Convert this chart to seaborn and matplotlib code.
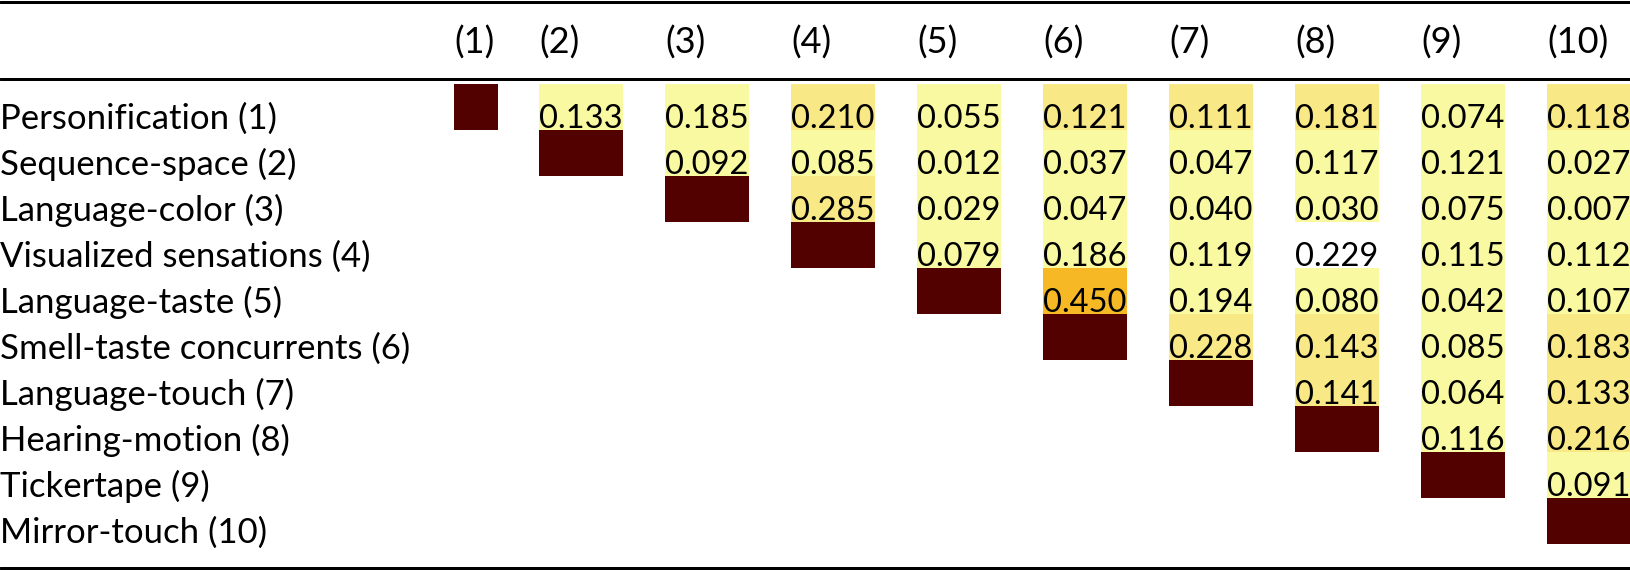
import numpy as np
import pandas as pd
import seaborn as sns
import matplotlib
matplotlib.use("Agg")
import matplotlib.pyplot as plt
from matplotlib.colors import ListedColormap
from matplotlib import transforms
from matplotlib.lines import Line2D

sns.set_theme(style="white")
plt.rcParams["font.family"] = ["Lato", "DejaVu Sans"]

# ---- data ----
row_labels = [
    "Personification (1)", "Sequence-space (2)", "Language-color (3)",
    "Visualized sensations (4)", "Language-taste (5)", "Smell-taste concurrents (6)",
    "Language-touch (7)", "Hearing-motion (8)", "Tickertape (9)", "Mirror-touch (10)",
]
col_labels = ["(1)", "(2)", "(3)", "(4)", "(5)", "(6)", "(7)", "(8)", "(9)", "(10)"]

# upper-triangle values, row i lists columns i+1 .. 10
values_upper = [
    [0.133, 0.185, 0.210, 0.055, 0.121, 0.111, 0.181, 0.074, 0.118],
    [0.092, 0.085, 0.012, 0.037, 0.047, 0.117, 0.121, 0.027],
    [0.285, 0.029, 0.047, 0.040, 0.030, 0.075, 0.007],
    [0.079, 0.186, 0.119, 0.229, 0.115, 0.112],
    [0.450, 0.194, 0.080, 0.042, 0.107],
    [0.228, 0.143, 0.085, 0.183],
    [0.141, 0.064, 0.133],
    [0.116, 0.216],
    [0.091],
]
# shading level of each upper cell: 0 pale, 1 yellow, 2 orange, -1 none
levels_upper = [
    [0, 0, 1, 0, 1, 1, 1, 0, 1],
    [0, 0, 0, 0, 0, 0, 0, 0],
    [1, 0, 0, 0, 0, 0, 0],
    [0, 0, 0, -1, 0, 0],
    [2, 0, 0, 0, 0],
    [1, 1, 0, 1],
    [1, 0, 1],
    [0, 1],
    [0],
]
DIAG_LEVEL = 3
shade_colors = ["#F9F9A1", "#F8E886", "#F6B825", "#520000"]

# ---- build matrices ----
n = len(row_labels)
val = np.full((n, n), np.nan)
lev = np.full((n, n), np.nan)
for i in range(n):
    lev[i, i] = DIAG_LEVEL
    for k, (v, l) in enumerate(zip(values_upper[i] if i < len(values_upper) else [],
                                   levels_upper[i] if i < len(levels_upper) else [])):
        j = i + 1 + k
        val[i, j] = v
        lev[i, j] = l if l >= 0 else np.nan
lev_df = pd.DataFrame(lev, index=row_labels, columns=col_labels)

# ---- layout (pixels) ----
W, H = 1630, 570
fig = plt.figure(figsize=(W / 100, H / 100), dpi=100)
table_top, table_bottom = 84, 544
col_left = [454, 539, 665, 791, 917, 1043, 1169, 1295, 1421, 1547]
col_width = [44] + [84] * 9
label_fs = 25.0
header_fs = 26.0
cell_fs = 23.5

cmap = ListedColormap(shade_colors)
axes = []
for j in range(n):
    ax = fig.add_axes([col_left[j] / W, 1 - table_bottom / H,
                       col_width[j] / W, (table_bottom - table_top) / H])
    sub = lev_df.iloc[:, [j]]
    sns.heatmap(sub, ax=ax, cmap=cmap, vmin=-0.5, vmax=3.5, cbar=False,
                mask=sub.isna(), xticklabels=False, yticklabels=False)
    ax.set_xlabel("")
    ax.set_ylabel("")
    ax.set_axis_off()
    # cell values
    for i in range(n):
        if not np.isnan(val[i, j]):
            ax.text(0.0, i + 1 - 0.04, f"{val[i, j]:.3f}", ha="left", va="baseline",
                    fontsize=cell_fs, color="black", clip_on=False)
    # column header
    tr = transforms.blended_transform_factory(ax.transData, fig.transFigure)
    ax.text(0.0, 1 - 54 / H, col_labels[j], transform=tr, ha="left", va="baseline",
            fontsize=header_fs, color="black")
    axes.append(ax)

# row labels
tr_rows = transforms.blended_transform_factory(fig.transFigure, axes[0].transData)
for i, lab in enumerate(row_labels):
    axes[0].text(0.0, i + 1 - 0.02, lab, transform=tr_rows, ha="left", va="baseline",
                 fontsize=label_fs, color="black")

# table rules
for y_px, lw in [(1.5, 3.0), (78.5, 3.0), (567.5, 3.0)]:
    fig.add_artist(Line2D([0, 1], [1 - y_px / H, 1 - y_px / H], transform=fig.transFigure,
                          color="black", linewidth=lw * 0.72))

fig.savefig("out.png", dpi=100, facecolor="white")
